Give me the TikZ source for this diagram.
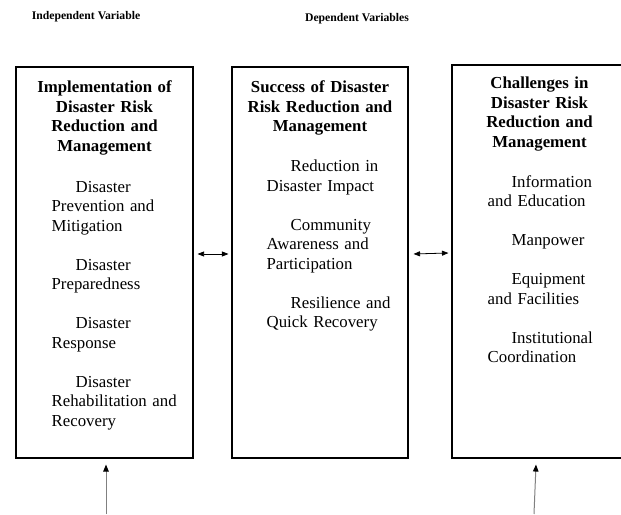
\documentclass[tikz,border=0pt]{standalone}
\usepackage{fontspec}
\setmainfont{Liberation Serif}
\usetikzlibrary{positioning, arrows.meta, calc}

\begin{document}
\begin{tikzpicture}[
    x=1pt, y=1pt,
    >={Triangle[length=6.5pt,width=5pt]},
    every node/.style={inner sep=0pt},
    box/.style={draw, line width=1.1pt, minimum height=391pt},
    heading/.style={font=\fontsize{11.7}{14}\selectfont\bfseries},
    boxtitle/.style={font=\fontsize{16.8}{19.5}\selectfont\bfseries, align=center, text width=166pt, anchor=base},
    boxbody/.style={font=\fontsize{16.8}{19.5}\selectfont, align=left, text width=150pt, anchor=base west},
    arrow/.style={<->, line width=0.8pt},
    link/.style={-{Triangle[length=7pt,width=5.5pt,color=black]}, line width=1pt, draw=gray},
]
\useasboundingbox (0,0) rectangle (621,514);

% --- headings ---
\node[heading] (h1) at (86,497) {Independent Variable};
\node[heading] (h2) at (357,495) {Dependent Variables};

% --- Implementation ---
\node[box, minimum width=177pt] (b1) at (104.5,251.5) {};
\node[boxtitle] (t1) at ([yshift=-26.5pt]b1.north) {Implementation of\\Disaster Risk\\Reduction and\\Management};
\node[boxbody] (d1) at ($(b1.west |- t1.base)+(36,-99.5)$) {\hspace*{24pt}Disaster\\Prevention and\\Mitigation\\[19.5pt]\hspace*{24pt}Disaster\\Preparedness\\[19.5pt]\hspace*{24pt}Disaster\\Response\\[19.5pt]\hspace*{24pt}Disaster\\Rehabilitation and\\Recovery};

% --- Success ---
\node[box, minimum width=176pt] (b2) at (320,251.5) {};
\node[boxtitle] (t2) at ([yshift=-26.5pt]b2.north) {Success of Disaster\\Risk Reduction and\\Management};
\node[boxbody] (d2) at ($(b2.west |- t2.base)+(35,-79)$) {\hspace*{24pt}Reduction in\\Disaster Impact\\[19.5pt]\hspace*{24pt}Community\\Awareness and\\Participation\\[19.5pt]\hspace*{24pt}Resilience and\\Quick Recovery};

% --- Challenges ---
\node[box, minimum width=175pt, minimum height=393pt] (b3) at (539.5,252.5) {};
\node[boxtitle] (t3) at ([yshift=-24.5pt]b3.north) {Challenges in\\Disaster Risk\\Reduction and\\Management};
\node[boxbody] (d3) at ($(b3.west |- t3.base)+(36,-98.5)$) {\hspace*{24pt}Information\\and Education\\[19.5pt]\hspace*{24pt}Manpower\\[19.5pt]\hspace*{24pt}Equipment\\and Facilities\\[19.5pt]\hspace*{24pt}Institutional\\Coordination};

% --- links ---
\draw[arrow] ([xshift=4pt,yshift=8.5pt]b1.east) -- ([xshift=-3pt,yshift=8.5pt]b2.west);
\draw[arrow] ([xshift=5pt,yshift=8.5pt]b2.east) -- ([xshift=-3pt,yshift=8.5pt]b3.west);

\coordinate (s1) at (106,0);
\coordinate (s2) at (534,0);
\draw[link] (s1) -- ([xshift=1.5pt,yshift=-6pt]b1.south);
\draw[link] (s2) -- ([xshift=-3.5pt,yshift=-6pt]b3.south);

\end{tikzpicture}
\end{document}
